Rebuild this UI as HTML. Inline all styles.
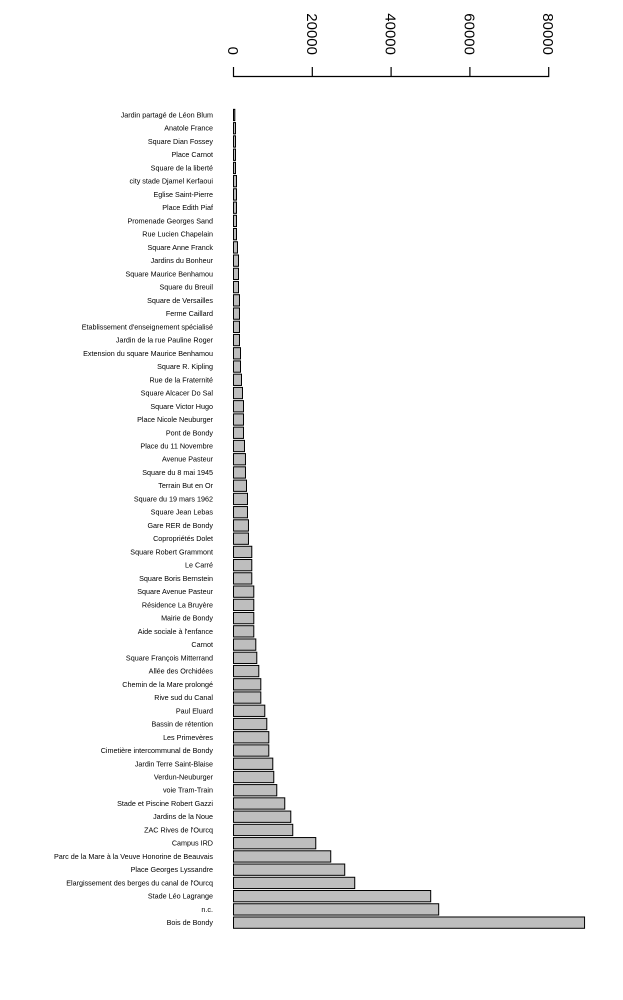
<!DOCTYPE html>
<html><head><meta charset="utf-8"><style>
html,body{margin:0;padding:0;background:#fff;}
svg{display:block;font-family:"Liberation Sans",sans-serif;}
</style></head><body>
<svg id="chart" width="623" height="1000" viewBox="0 0 623 1000" xmlns="http://www.w3.org/2000/svg"></svg>
<script>
const categories = ["Jardin partagé de Léon Blum","Anatole France","Square Dian Fossey","Place Carnot","Square de la liberté","city stade Djamel Kerfaoui","Eglise Saint-Pierre","Place Edith Piaf","Promenade Georges Sand","Rue Lucien Chapelain","Square Anne Franck","Jardins du Bonheur","Square Maurice Benhamou","Square du Breuil","Square de Versailles","Ferme Caillard","Etablissement d'enseignement spécialisé","Jardin de la rue Pauline Roger","Extension du square Maurice Benhamou","Square R. Kipling","Rue de la Fraternité","Square Alcacer Do Sal","Square Victor Hugo","Place Nicole Neuburger","Pont de Bondy","Place du 11 Novembre","Avenue Pasteur","Square du 8 mai 1945","Terrain But en Or","Square du 19 mars 1962","Square Jean Lebas","Gare RER de Bondy","Copropriétés Dolet","Square Robert Grammont","Le Carré","Square Boris Bernstein","Square Avenue Pasteur","Résidence La Bruyère","Mairie de Bondy","Aide sociale à l'enfance","Carnot","Square François Mitterrand","Allée des Orchidées","Chemin de la Mare prolongé","Rive sud du Canal","Paul Eluard","Bassin de rétention","Les Primevères","Cimetière intercommunal de Bondy","Jardin Terre Saint-Blaise","Verdun-Neuburger","voie Tram-Train","Stade et Piscine Robert Gazzi","Jardins de la Noue","ZAC Rives de l'Ourcq","Campus IRD","Parc de la Mare à la Veuve Honorine de Beauvais","Place Georges Lyssandre","Elargissement des berges du canal de l'Ourcq","Stade Léo Lagrange","n.c.","Bois de Bondy"];
const values = [330,510,510,510,510,760,760,760,760,760,1010,1270,1270,1270,1520,1520,1520,1520,1780,1780,2030,2280,2540,2540,2540,2790,3040,3040,3300,3550,3550,3800,3800,4640,4640,4640,5150,5150,5150,5150,5660,5910,6420,6930,6930,7940,8450,8960,8960,9970,10220,10980,13010,14540,15040,20880,24680,28230,30770,50050,52080,89100];
const ticks = [0,20000,40000,60000,80000];
const tickLabels = ["0","20000","40000","60000","80000"];

const NS="http://www.w3.org/2000/svg";
const svg=document.getElementById('chart');
const x0=233.5, pxPer=315.2/80000;
const X=v=>x0+v*pxPer;
const Y=i=>115+i*13.24;
const barH=11.3;
function mk(t,a){const e=document.createElementNS(NS,t);for(const k in a)e.setAttribute(k,a[k]);svg.appendChild(e);return e;}

const axis=mk('path',{d:`M${X(0)},67 V76.5 H${X(80000)} V67`,fill:'none',stroke:'#000','stroke-width':1.2});


ticks.forEach((t,i)=>{
  if(i>0&&i<ticks.length-1){const tk=mk('line',{x1:X(t),x2:X(t),y1:67,y2:76.5,stroke:'#000','stroke-width':1.2});
  
  }
  const tx=mk('text',{transform:`translate(${X(t)-5.5},55) rotate(90)`,'font-size':15,'text-anchor':'end'});
  tx.textContent=tickLabels[i];
  
  
});
categories.forEach((c,i)=>{
  const r=mk('rect',{x:X(0),y:Y(i)-barH/2,width:Math.max(X(values[i])-X(0),0.5),height:barH,fill:'#bebebe',stroke:'#000','stroke-width':1});
  
  
  const l=mk('text',{x:213,y:Y(i)+2.5,'font-size':7.2,'text-anchor':'end',fill:'#000'});
  l.textContent=c;
  
  
});
</script>
</body></html>
